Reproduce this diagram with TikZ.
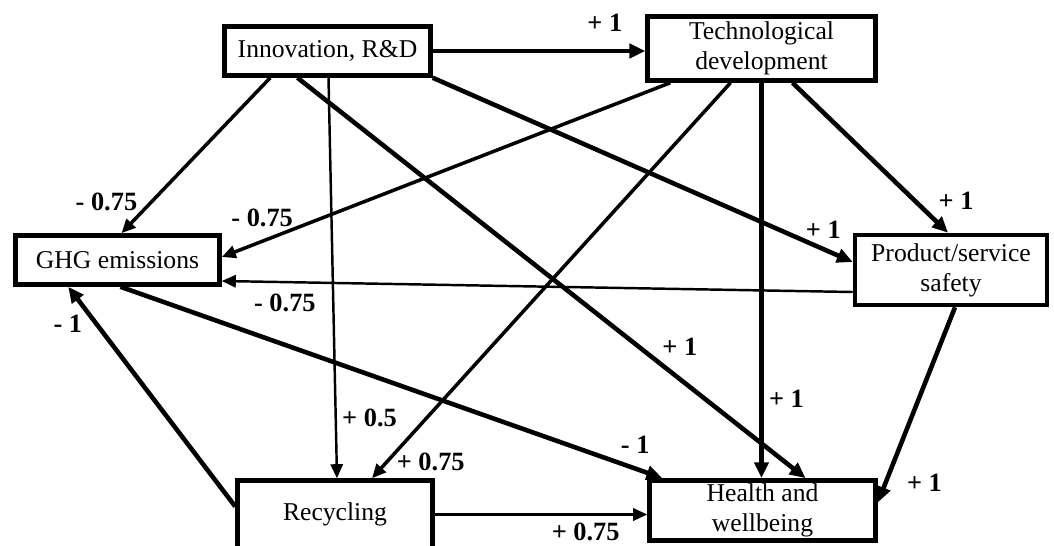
\documentclass[tikz,border=0pt]{standalone}
\usepackage{fontspec}
\setmainfont{Liberation Serif}
\usetikzlibrary{arrows.meta,calc}

\begin{document}
\begin{tikzpicture}[x=0.02cm,y=-0.02cm,
    box/.style={draw,line width=2.6pt,align=center,inner sep=2pt,font=\fontsize{14.6}{17}\selectfont},
    lbl/.style={inner sep=0pt,font=\bfseries\fontsize{15}{17}\selectfont},
    arr/.style={-{Triangle[length=8pt,width=7pt]},line width=1.6pt},
    warr/.style={-{Triangle[length=9pt,width=8pt]},line width=2.6pt}]
  \useasboundingbox (0,0) rectangle (1054,545);
  \node[box,minimum width=4.12cm,minimum height=0.98cm] (1) at (327.5,51) {Innovation, R\&D};
  \node[box,minimum width=4.56cm,minimum height=1.28cm] (2) at (761.5,48.5) {Technological\\development};
  \node[box,minimum width=4.08cm,minimum height=0.98cm] (3) at (117.5,260) {GHG emissions};
  \node[box,minimum width=3.84cm,minimum height=1.4cm] (4) at (951,270) {Product/service\\safety};
  \node[box,minimum width=3.9cm,minimum height=1.36cm] (5) at (335,514.5) {Recycling};
  \node[box,minimum width=4.52cm,minimum height=1.2cm] (6) at (762.5,510.5) {Health and\\wellbeing};
  % from innovation
  \draw[warr] (1.east) -- (1.east -| 2.west) node[lbl,pos=.81,above=10pt] (w12) {+ 1};
  \draw[arr,line width=2pt] ($(1.south west)+(48,0)$) -- ($(3.north)+(4,0)$) node[lbl,pos=.8,left=7pt] (w13) {- 0.75};
  \draw[arr,line width=1.4pt] ($(1.south)+(1,0)$) -- ($(5.north)+(2,0)$) node[lbl,pos=.85,right=3pt] (w15) {+ 0.5};
  \draw[warr] ($(1.south)+(-30,0)$) -- ($(6.north)+(43,0)$) node[lbl,pos=.70,anchor=south west,xshift=4pt] (w16) {+ 1};
  \draw[warr] (1.south east) -- ($(4.west)+(0,-8)$) node[lbl,pos=.93,above=5pt] (w14) {+ 1};
  % from technological development
  \draw[arr,line width=2pt] ($(2.south west)+(25,0)$) -- ($(3.east)+(0,-3)$) node[lbl,pos=.91,above=7pt] (w23) {- 0.75};
  \draw[arr,line width=2pt] ($(2.south)+(-31,0)$) -- ($(5.north)+(37,0)$) node[lbl,pos=.96,right=5pt] (w25) {+ 0.75};
  \draw[warr] (2.south) -- (2.south |- 6.north) node[lbl,pos=.8,right=3pt] (w26) {+ 1};
  \draw[warr] ($(2.south)+(31,0)$) -- ($(4.north)+(-3,0)$) node[lbl,pos=.79,right=12pt] (w24) {+ 1};
  % the rest
  \draw[arr,line width=1.4pt] ($(4.west)+(0,22)$) -- ($(3.east)+(0,21)$) node[lbl,pos=.9,below=6pt] (w43) {- 0.75};
  \draw[warr] ($(3.south)+(3,0)$) -- ($(6.north west)+(15,0)$) node[lbl,pos=.95,above=7pt] (w36) {- 1};
  \draw[warr] ($(5.west)+(0,-8)$) -- ($(3.south west)+(55,0)$) node[lbl,pos=.83,left=7pt] (w53) {- 1};
  \draw[arr,line width=1.4pt] (5.east) -- (5.east -| 6.west) node[lbl,pos=.71,below=4pt] (w56) {+ 0.75};
  \draw[warr] ($(4.south)+(4,0)$) -- ($(6.east)+(0,-8)$) node[lbl,pos=.9,right=11pt] (w46) {+ 1};
\end{tikzpicture}
\end{document}
